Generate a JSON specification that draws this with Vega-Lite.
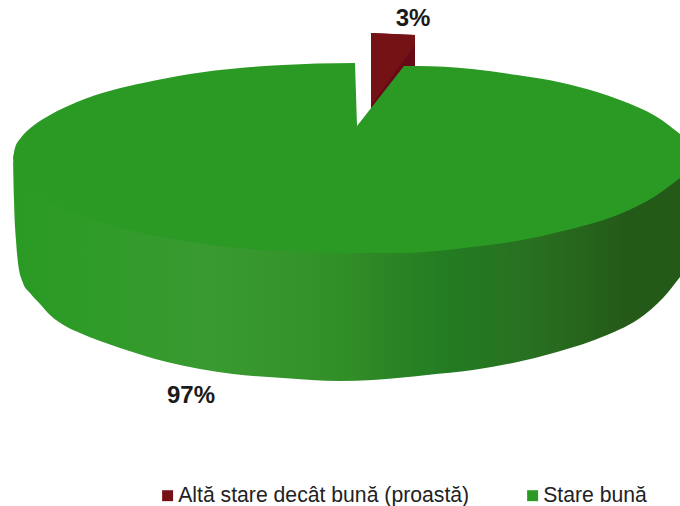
{
  "$schema": "https://vega.github.io/schema/vega-lite/v6.json",
  "width": 680,
  "height": 506,
  "padding": 0,
  "autosize": {"type": "none"},
  "background": "#ffffff",
  "view": {"stroke": null},
  "datasets": {
    "wall": [
      {"x": -327, "seam": 95, "rim": 95},
      {"x": -326, "seam": 90, "rim": 53},
      {"x": -324, "seam": 86, "rim": 13},
      {"x": -322, "seam": 83, "rim": -10},
      {"x": -317, "seam": 77, "rim": -30},
      {"x": -310, "seam": 70, "rim": -40},
      {"x": -300, "seam": 62, "rim": -51},
      {"x": -290, "seam": 56, "rim": -62},
      {"x": -273, "seam": 47, "rim": -74},
      {"x": -260, "seam": 42, "rim": -80},
      {"x": -240, "seam": 35, "rim": -88},
      {"x": -220, "seam": 28, "rim": -95},
      {"x": -173, "seam": 18, "rim": -109},
      {"x": -107, "seam": 9, "rim": -121},
      {"x": -57, "seam": 5, "rim": -125},
      {"x": 0, "seam": 3, "rim": -128},
      {"x": 33, "seam": 3, "rim": -127},
      {"x": 87, "seam": 4, "rim": -122},
      {"x": 133, "seam": 9, "rim": -117},
      {"x": 173, "seam": 15, "rim": -110},
      {"x": 217, "seam": 24, "rim": -99},
      {"x": 267, "seam": 37, "rim": -82},
      {"x": 300, "seam": 51, "rim": -65},
      {"x": 323, "seam": 64, "rim": -45},
      {"x": 340, "seam": 78, "rim": -24}
    ],
    "faceLeft": [
      {"slice": "Stare bună", "x": -327, "upper": 95, "lower": 95},
      {"slice": "Stare bună", "x": -325, "upper": 105, "lower": 85},
      {"slice": "Stare bună", "x": -320, "upper": 114, "lower": 76},
      {"slice": "Stare bună", "x": -315, "upper": 120, "lower": 70},
      {"slice": "Stare bună", "x": -307, "upper": 127, "lower": 63},
      {"slice": "Stare bună", "x": -290, "upper": 138, "lower": 52},
      {"slice": "Stare bună", "x": -263, "upper": 151, "lower": 39},
      {"slice": "Stare bună", "x": -227, "upper": 163, "lower": 27},
      {"slice": "Stare bună", "x": -197, "upper": 170, "lower": 20},
      {"slice": "Stare bună", "x": -150, "upper": 179, "lower": 11},
      {"slice": "Stare bună", "x": -100, "upper": 185, "lower": 5},
      {"slice": "Stare bună", "x": -57, "upper": 188, "lower": 2},
      {"slice": "Stare bună", "x": -23, "upper": 189.5, "lower": 0.5},
      {"slice": "Stare bună", "x": 15, "upper": 190, "lower": 0}
    ],
    "faceNotch": [
      {"slice": "Stare bună", "x": 15, "upper": 190, "lower": 0},
      {"slice": "Stare bună", "x": 17, "upper": 127, "lower": 0},
      {"slice": "Stare bună", "x": 64, "upper": 187, "lower": 0}
    ],
    "faceRight": [
      {"slice": "Stare bună", "x": 64, "upper": 187, "lower": 0},
      {"slice": "Stare bună", "x": 77, "upper": 187, "lower": 0.5},
      {"slice": "Stare bună", "x": 132, "upper": 184, "lower": 6},
      {"slice": "Stare bună", "x": 177, "upper": 178, "lower": 12},
      {"slice": "Stare bună", "x": 223, "upper": 170, "lower": 22},
      {"slice": "Stare bună", "x": 257, "upper": 161, "lower": 31},
      {"slice": "Stare bună", "x": 280, "upper": 153, "lower": 39},
      {"slice": "Stare bună", "x": 317, "upper": 136, "lower": 58},
      {"slice": "Stare bună", "x": 340, "upper": 119, "lower": 75}
    ],
    "wedgeBack": [
      {"x": 31, "upper": 220, "lower": 143},
      {"x": 75, "upper": 218, "lower": 183}
    ],
    "wedgeSide": [
      {"slice": "Altă stare decât bună (proastă)", "x": 31, "upper": 220, "lower": 148},
      {"slice": "Altă stare decât bună (proastă)", "x": 75, "upper": 218, "lower": 208}
    ],
    "shares": [
      {"label": "3%", "share": 3, "x": 73, "y": 234},
      {"label": "97%", "share": 97, "x": -149, "y": -143}
    ]
  },
  "layer": [
    {
      "data": {"name": "wall"},
      "mark": {
        "type": "area",
        "interpolate": "monotone",
        "fill": {
          "gradient": "linear",
          "x1": 0,
          "x2": 1,
          "y1": 0,
          "y2": 0,
          "stops": [
            {"offset": 0, "color": "#2a9a24"},
            {"offset": 0.12, "color": "#2f9b28"},
            {"offset": 0.3, "color": "#3a9a32"},
            {"offset": 0.48, "color": "#329028"},
            {"offset": 0.65, "color": "#237c22"},
            {"offset": 0.78, "color": "#296f20"},
            {"offset": 0.92, "color": "#245a18"},
            {"offset": 1, "color": "#245a18"}
          ]
        }
      },
      "encoding": {
        "x": {"field": "x", "type": "quantitative", "scale": {"domain": [-340, 340]}, "axis": null},
        "y": {"field": "seam", "type": "quantitative", "scale": {"domain": [-253, 253]}, "axis": null},
        "y2": {"field": "rim"}
      }
    },
    {
      "data": {"name": "wedgeBack"},
      "mark": {"type": "area", "fill": "#660b16"},
      "encoding": {
        "x": {"field": "x", "type": "quantitative", "scale": {"domain": [-340, 340]}, "axis": null},
        "y": {"field": "upper", "type": "quantitative", "scale": {"domain": [-253, 253]}, "axis": null},
        "y2": {"field": "lower"}
      }
    },
    {
      "data": {"name": "wedgeSide"},
      "mark": {"type": "area"},
      "encoding": {
        "x": {"field": "x", "type": "quantitative", "scale": {"domain": [-340, 340]}, "axis": null},
        "y": {"field": "upper", "type": "quantitative", "scale": {"domain": [-253, 253]}, "axis": null},
        "y2": {"field": "lower"},
        "color": {
          "field": "slice",
          "type": "nominal",
          "scale": {
            "domain": ["Altă stare decât bună (proastă)", "Stare bună"],
            "range": ["#741216", "#2a9a24"]
          },
          "legend": {
            "title": null,
            "orient": "none",
            "legendX": 157,
            "legendY": 485,
            "direction": "horizontal",
            "columns": 2,
            "columnPadding": 52,
            "symbolType": "square",
            "symbolSize": 120,
            "symbolStrokeWidth": 0,
            "labelFont": "Liberation Sans",
            "labelFontSize": 21.2,
            "labelColor": "#222222",
            "labelLimit": 400,
            "labelOffset": 0
          }
        }
      }
    },
    {
      "data": {"name": "faceLeft"},
      "mark": {"type": "area", "interpolate": "monotone"},
      "encoding": {
        "x": {"field": "x", "type": "quantitative", "scale": {"domain": [-340, 340]}, "axis": null},
        "y": {"field": "upper", "type": "quantitative", "scale": {"domain": [-253, 253]}, "axis": null},
        "y2": {"field": "lower"},
        "color": {"field": "slice", "type": "nominal"}
      }
    },
    {
      "data": {"name": "faceNotch"},
      "mark": {"type": "area"},
      "encoding": {
        "x": {"field": "x", "type": "quantitative", "scale": {"domain": [-340, 340]}, "axis": null},
        "y": {"field": "upper", "type": "quantitative", "scale": {"domain": [-253, 253]}, "axis": null},
        "y2": {"field": "lower"},
        "color": {"field": "slice", "type": "nominal"}
      }
    },
    {
      "data": {"name": "faceRight"},
      "mark": {"type": "area", "interpolate": "monotone"},
      "encoding": {
        "x": {"field": "x", "type": "quantitative", "scale": {"domain": [-340, 340]}, "axis": null},
        "y": {"field": "upper", "type": "quantitative", "scale": {"domain": [-253, 253]}, "axis": null},
        "y2": {"field": "lower"},
        "color": {"field": "slice", "type": "nominal"}
      }
    },
    {
      "data": {"name": "shares"},
      "mark": {
        "type": "text",
        "font": "Liberation Sans",
        "fontSize": 24,
        "fontWeight": "bold",
        "color": "#1a1a1a",
        "align": "center",
        "baseline": "middle"
      },
      "encoding": {
        "x": {"field": "x", "type": "quantitative", "scale": {"domain": [-340, 340]}, "axis": null},
        "y": {"field": "y", "type": "quantitative", "scale": {"domain": [-253, 253]}, "axis": null},
        "text": {"field": "label"}
      }
    }
  ]
}
